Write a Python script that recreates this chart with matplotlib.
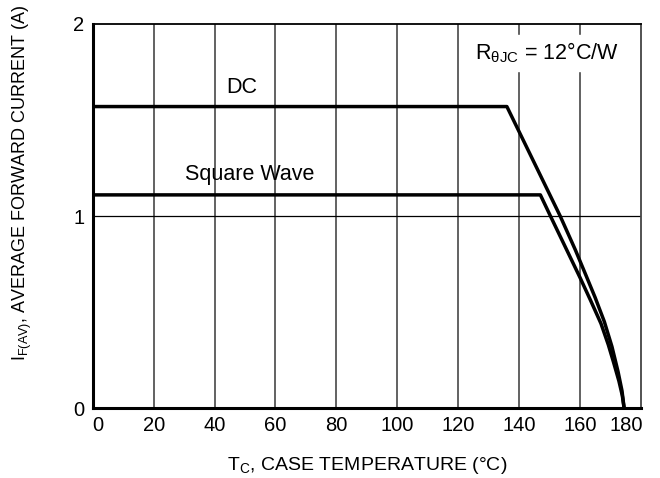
import matplotlib
matplotlib.use('Agg')
import matplotlib.pyplot as plt
import matplotlib.transforms as mtransforms

plt.rcParams['font.family'] = ['Liberation Sans', 'DejaVu Sans']

# curvas de derating
temp_dc = [0, 136, 145, 153.5, 158.5, 162, 165, 168, 170.5, 172.5, 173.8, 174.5]
corriente_dc = [1.57, 1.57, 1.277, 1.0, 0.823, 0.69, 0.575, 0.45, 0.32, 0.19, 0.09, 0.0]
temp_sq = [0, 147, 150.3, 155, 160, 163.5, 166.9, 169.3, 171, 172.8, 173.9, 174.5]
corriente_sq = [1.11, 1.11, 1.0, 0.845, 0.68, 0.56, 0.44, 0.33, 0.24, 0.14, 0.065, 0.0]

xticks = [0, 20, 40, 60, 80, 100, 120, 140, 160, 180]
yticks = [0, 1, 2]

fig = plt.figure(figsize=(6.6, 4.78), dpi=100)
ax = fig.add_axes([0.1405, 0.1464, 0.8305, 0.8034])

ax.plot(temp_dc, corriente_dc, color='black', lw=2.5, solid_joinstyle='round')
ax.plot(temp_sq, corriente_sq, color='black', lw=2.5, solid_joinstyle='round')

ax.set_xlim(0, 180)
ax.set_ylim(0, 2)
ax.set_xticks(xticks)
ax.set_yticks(yticks)
ax.tick_params(length=0, labelsize=14.5, pad=6)

for x in xticks[1:-1]:
    ax.axvline(x, color='#555555', lw=1.3, zorder=0)
ax.axhline(1, color='black', lw=0.9, zorder=0)

for lado in ['left', 'bottom']:
    ax.spines[lado].set_linewidth(2.2)
ax.spines['top'].set_linewidth(1.3)
ax.spines['right'].set_linewidth(1.3)
ax.spines['right'].set_color('#444444')

# desplazar etiquetas de los extremos
etiquetas = ax.get_xticklabels()
etiquetas[0].set_transform(etiquetas[0].get_transform() +
                           mtransforms.ScaledTranslation(5 / 100, 0, fig.dpi_scale_trans))
etiquetas[-1].set_transform(etiquetas[-1].get_transform() +
                            mtransforms.ScaledTranslation(-15 / 100, 0, fig.dpi_scale_trans))

ax.text(49.0, 1.667, 'DC', fontsize=15.5, ha='center', va='center')
ax.text(51.4, 1.214, 'Square Wave', fontsize=15.5, ha='center', va='center')
ax.text(125.4, 1.85, r'R$_{\mathregular{\theta JC}}$ = 12°C/W', fontsize=15.5,
        ha='left', va='center', backgroundcolor='white')

ax.set_xlabel(r'T$_{\mathregular{C}}$, CASE TEMPERATURE (°C)', fontsize=14, labelpad=14)
ax.set_ylabel(r'I$_{\mathregular{F(AV)}}$, AVERAGE FORWARD CURRENT (A)', fontsize=13)
ax.yaxis.set_label_coords(-0.108, 0.587)

fig.savefig('out.png', dpi=100)
